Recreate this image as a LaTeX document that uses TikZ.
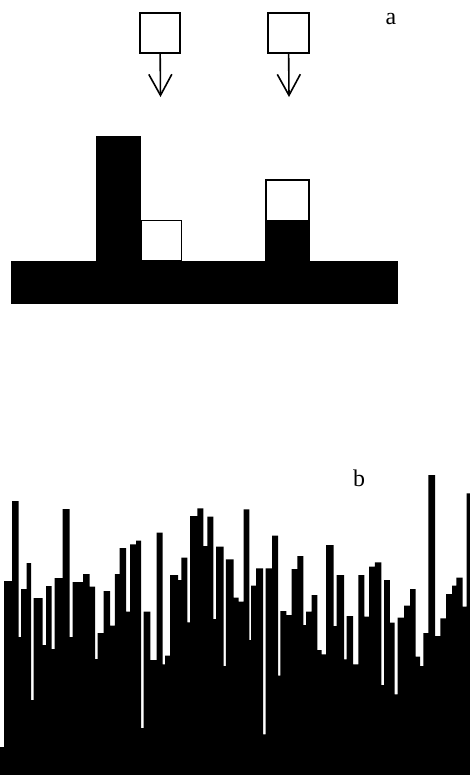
\documentclass[tikz,border=0pt]{standalone}
\usepackage{fontspec}
\setmainfont{Liberation Serif}
\usetikzlibrary{arrows.meta}

\begin{document}
\begin{tikzpicture}[
    x=1bp, y=-1bp,
    font=\fontsize{24}{28}\selectfont,
    cell/.style={rectangle, draw, line width=1.6bp, fill=white, minimum width=40.5bp, minimum height=40.5bp, inner sep=0pt, outer sep=0pt},
    drop/.style={line width=1.6bp, -{Straight Barb[length=21bp, width=23bp, line width=1.6bp]}},
    deposit/.style={fill=black}
]
\useasboundingbox (0,0) rectangle (470,775);

% Nodes
\node[cell] (fall_left) at (160,33) {};
\node[cell] (fall_right) at (288.5,33) {};
\coordinate (land_left) at (160.5,97);
\coordinate (land_right) at (289,97);
\node (label_a) at (391,19) {a};

% Deposit
\fill[deposit] (11,261) rectangle (398,304);
\fill[deposit] (96,136) rectangle (141,261);
\fill[deposit] (265,221) rectangle (310,261);
\node[cell, minimum width=40bp, minimum height=40bp] (stuck_side) at (161.5,240.5) {};
\node[cell, minimum width=43.4bp, minimum height=41bp] (stuck_top) at (287.5,200.5) {};

% Connections
\draw[drop] (fall_left) -- (land_left);
\draw[drop] (fall_right) -- (land_right);

% Rough surface
\node (label_b) at (359,478) {b};
\fill[deposit] (0,775) foreach \x/\y in {4/747, 12/581, 18.5/501, 21/637, 26.5/589, 31/563, 33.5/700, 42.7/598, 46/645, 51.5/586, 54.5/649, 62.7/578, 69.7/509, 72.5/637, 83/582, 89.5/574, 95/586.5, 97.5/659, 103.5/633, 110.2/591, 114.8/625.5, 119.5/574, 126/548, 130/611.7, 136/544.3, 141/540.5, 143.5/728, 150.3/611.7, 156.5/660, 162.7/532.7, 165/664.3, 170/655.7, 178/575, 181.3/580, 187.3/557.7, 190/622.3, 197.3/516, 203.3/508.3, 207.3/546, 213.3/516.7, 216.2/619, 223.5/546.7, 225.8/666, 233.5/559.3, 238.7/597.7, 243.7/601.7, 249.3/509.3, 251/640, 256/585.7, 263/568.3, 265.5/734.3, 272/568.3, 278/535.7, 280.3/675.7, 286.3/611, 291.5/615, 297.3/569, 303.3/556, 306/625, 311.7/611.7, 317.3/595, 321.7/650, 326/654.3, 333.5/545, 336.7/626, 344/575, 346.7/659.3, 353/616, 358.3/664.3, 364.3/575, 369/616.7, 374.8/566.7, 381.3/562.3, 384/685, 389.8/580, 394.7/622.5, 397.5/694.3, 404/617.5, 410/605.7, 415.7/589, 420/656.5, 423.3/666, 428.3/633, 435/475, 440.3/636, 446/618.3, 452/594, 456.3/585.7, 462.5/577.7, 466.7/606.7, 470/493.3} {|- (\x,\y)} -- (470,775) -- cycle;

\end{tikzpicture}
\end{document}
